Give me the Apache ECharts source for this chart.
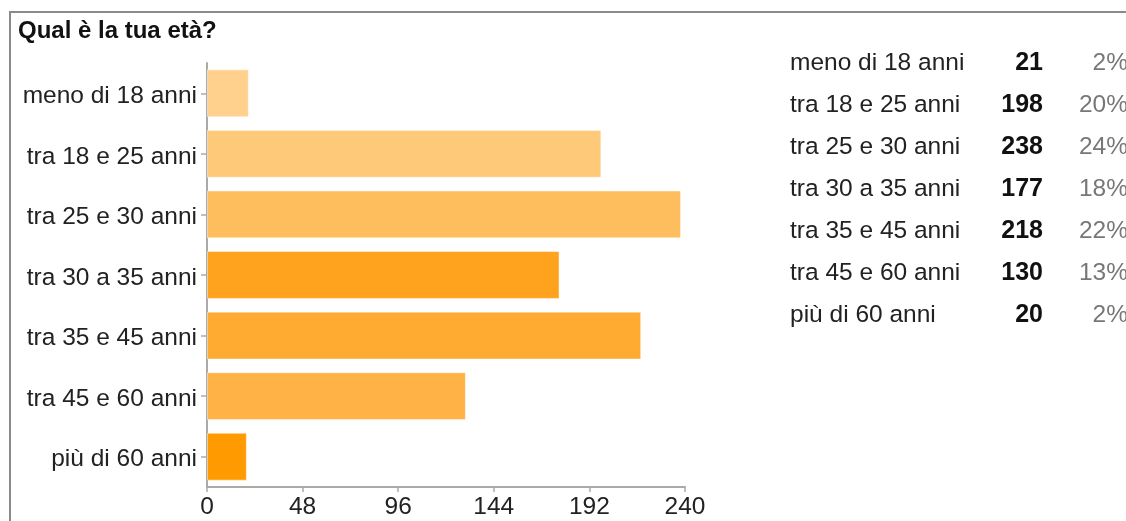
<!DOCTYPE html>
<html>
<head>
<meta charset="utf-8">
<script src="https://cdn.jsdelivr.net/npm/echarts@6/dist/echarts.min.js"></script>
<style>
html,body{margin:0;padding:0;background:#fff;}
#c{width:1126px;height:521px;}
</style>
</head>
<body>
<div id="c"></div>
<script>
const title = 'Qual è la tua età?';
const categories = ['meno di 18 anni','tra 18 e 25 anni','tra 25 e 30 anni','tra 30 a 35 anni','tra 35 e 45 anni','tra 45 e 60 anni','più di 60 anni'];
const counts = [21, 198, 238, 177, 218, 130, 20];
const percents = ['2%','20%','24%','18%','22%','13%','2%'];
const barColors = ['#FFD18C','#FFC97A','#FFBE5E','#FFA21E','#FFAA30','#FFB347','#FF9A00'];
const xTicks = [0, 48, 96, 144, 192, 240];

const FONT = '"Liberation Sans", Arial, sans-serif';
const chart = echarts.init(document.getElementById('c'), null, {renderer:'canvas'});

const graphics = [
  {type:'rect', shape:{x:10,y:12,width:1300,height:700}, style:{fill:'none', stroke:'#8a8a8a', lineWidth:2}, silent:true},
  {type:'text', x:18, y:31, style:{text:title, font:'bold 24px '+FONT, fill:'#111', textVerticalAlign:'middle'}}
];
categories.forEach((c,i)=>{
  const y = 63 + i*42;
  graphics.push({type:'text', x:790, y:y, style:{text:c, font:'24.5px '+FONT, fill:'#222', textVerticalAlign:'middle', textAlign:'left'}});
  graphics.push({type:'text', x:1043, y:y, style:{text:String(counts[i]), font:'bold 25px '+FONT, fill:'#111', textVerticalAlign:'middle', textAlign:'right'}});
  graphics.push({type:'text', x:1128, y:y, style:{text:percents[i], font:'24.5px '+FONT, fill:'#777', textVerticalAlign:'middle', textAlign:'right'}});
});

chart.setOption({
  animation:false,
  grid:{left:207, top:63, right:441, bottom:34, containLabel:false},
  xAxis:{
    type:'value', min:xTicks[0], max:xTicks[xTicks.length-1], interval:xTicks[1]-xTicks[0],
    axisLine:{show:true, lineStyle:{color:'#aaa', width:2}},
    axisTick:{show:true, length:5, lineStyle:{color:'#aaa', width:1.5}},
    splitLine:{show:false},
    axisLabel:{color:'#222', fontSize:24.5, fontFamily:FONT, margin:8}
  },
  yAxis:{
    type:'category', data:categories, inverse:true,
    axisLine:{show:true, lineStyle:{color:'#aaa', width:2}},
    axisTick:{show:true, alignWithLabel:true, length:6, lineStyle:{color:'#aaa', width:1.5}},
    axisLabel:{
      margin:10,
      formatter:function(v){ return '{a|' + v + '}'; },
      rich:{a:{color:'#222', fontSize:24.5, fontFamily:FONT, padding:[6,0,0,0]}}
    }
  },
  series:[{
    type:'bar', barCategoryGap:'21%',
    data:counts.map((v,i)=>({value:v, itemStyle:{color:barColors[i], borderColor:'rgba(255,255,255,0.45)', borderWidth:1}}))
  }],
  graphic:graphics
});
</script>
</body>
</html>
